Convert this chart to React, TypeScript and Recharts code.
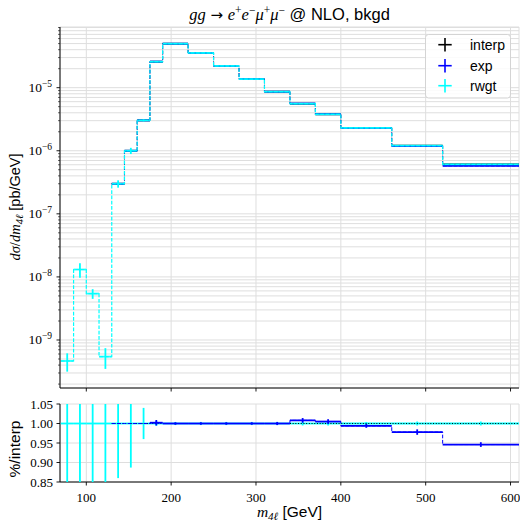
import React from "react";
import { ComposedChart, Line, Scatter, ErrorBar, XAxis, YAxis, CartesianGrid } from "recharts";

const SERIF = "'Liberation Serif', 'DejaVu Serif', serif";
const SANS = "'Liberation Sans', Arial, sans-serif";
const CYAN = "#00ffff";
const BLUE = "#0000ff";

// bin edges in m4l [GeV]
const EDGES = [70, 85, 100, 115, 130, 145, 160, 175, 190, 220, 250, 280, 310, 340, 370, 400, 460, 520, 610];

// dsigma/dm4l [pb/GeV], one value per bin
const RWGT = [4.65e-10, 1.31e-8, 5.44e-9, 5.45e-10, 3.0e-7, 1.0e-6, 3.03e-6, 2.58e-5, 4.98e-5, 3.55e-5, 2.21e-5, 1.37e-5, 8.64e-6, 5.57e-6, 3.78e-6, 2.3e-6, 1.21e-6, 6.08e-7];
const RWGT_ERR = [1.5e-10, 3.4e-9, 9.5e-10, 1.97e-10, 4.0e-8, 1.13e-7, 1.2e-7, 1.5e-7, 2.5e-7, 1.8e-7, 1.1e-7, 7e-8, 4.5e-8, 3e-8, 2e-8, 1.2e-8, 7e-9, 3.5e-9];
const INTERP = [null, null, null, null, 3.0e-7, 1.0e-6, 3.03e-6, 2.58e-5, 4.98e-5, 3.55e-5, 2.21e-5, 1.37e-5, 8.64e-6, 5.57e-6, 3.78e-6, 2.3e-6, 1.21e-6, 6.08e-7];
const EXP = [null, null, null, null, 3.0e-7, 1.0e-6, 3.03e-6, 2.59e-5, 4.98e-5, 3.55e-5, 2.21e-5, 1.37e-5, 8.64e-6, 5.61e-6, 3.8e-6, 2.29e-6, 1.18e-6, 5.75e-7];

// ratio to interp
const R_RWGT = [1, 1, 1, 1, 1, 1, 1, 1, 1, 1, 1, 1, 1, 1, 1, 1, 1, 1];
const R_RWGT_ERR = [0.33, 0.26, 0.175, 0.36, 0.14, 0.113, 0.04, 0.006, 0.004, 0.004, 0.004, 0.004, 0.004, 0.005, 0.005, 0.004, 0.005, 0.005];
const R_INTERP = [null, null, null, null, 1, 1, 1, 1, 1, 1, 1, 1, 1, 1, 1, 1, 1, 1];
const R_EXP = [null, null, null, null, 1, 1, 1, 1.002, 1, 1, 1, 1, 1, 1.008, 1.005, 0.994, 0.978, 0.946];
const R_EXP_ERR = [null, null, null, null, null, null, null, 0.007, 0.003, 0.003, 0.003, 0.003, 0.004, 0.006, 0.006, 0.005, 0.007, 0.006];

const X_DOMAIN = [69, 610];
const X_TICKS = [100, 200, 300, 400, 500, 600];
const Y_DOMAIN = [1.734e-10, 9.16e-5];
const Y_MAJOR = [1e-9, 1e-8, 1e-7, 1e-6, 1e-5];
const Y_DECADES = [-10, -9, -8, -7, -6, -5];
const Y_MULT = [1, 2, 3, 4, 5, 6, 7, 8, 9];
const Y_TICKS = Y_DECADES.flatMap((d) => Y_MULT.map((m) => m * Math.pow(10, d))).filter(
  (v) => v >= Y_DOMAIN[0] && v <= Y_DOMAIN[1]
);
const R_DOMAIN = [0.85, 1.05];
const R_TICKS = [0.85, 0.9, 0.95, 1.0, 1.05];

// step rows: one per edge, last edge repeats the last bin
function stepRows(series: Record<string, (number | null)[]>) {
  return EDGES.map((x, i) => {
    const row: Record<string, number | null> = { x };
    for (const k of Object.keys(series)) {
      const vals = series[k];
      row[k] = vals[Math.min(i, vals.length - 1)];
    }
    return row;
  });
}

// one cross per bin centre
function crosses(vals: (number | null)[], errs: (number | null)[] | null) {
  const out: { x: number; y: number; xerr: number; yerr: number }[] = [];
  vals.forEach((v, i) => {
    if (v == null) return;
    if (errs && errs[i] == null) return;
    out.push({
      x: (EDGES[i] + EDGES[i + 1]) / 2,
      y: v,
      xerr: (EDGES[i + 1] - EDGES[i]) / 2,
      yerr: errs ? (errs[i] as number) : 0,
    });
  });
  return out;
}

const MAIN_ROWS = stepRows({ interp: INTERP, exp: EXP, rwgt: RWGT });
const RATIO_ROWS = stepRows({ rwgt: R_RWGT, interp: R_INTERP, exp: R_EXP });

const NoShape = () => <g />;

const isMajor = (v: number) => Y_MAJOR.some((t) => Math.abs(v / t - 1) < 1e-6);

function LogYTick(props: any) {
  const { x, y, payload } = props;
  const v = payload.value;
  const major = isMajor(v);
  const e = Math.round(Math.log10(v));
  return (
    <g>
      <line x1={x} x2={x - (major ? 3.5 : 2)} y1={y} y2={y} stroke="#000" strokeWidth={major ? 0.9 : 0.6} />
      {major && (
        <text x={x - 8} y={y + 4.5} textAnchor="end" fontFamily={SERIF} fontSize={13.5} fill="#000">
          10
          <tspan dy={-5.5} fontSize={9.5}>{"\u2212" + -e}</tspan>
        </text>
      )}
    </g>
  );
}

function RatioYTick(props: any) {
  const { x, y, payload } = props;
  return (
    <g>
      <line x1={x} x2={x - 3.5} y1={y} y2={y} stroke="#000" strokeWidth={0.9} />
      <text x={x - 7} y={y + 4.5} textAnchor="end" fontFamily={SERIF} fontSize={13} fill="#000">
        {payload.value.toFixed(2)}
      </text>
    </g>
  );
}

function TickOnly(props: any) {
  const { x, y } = props;
  return <line x1={x} x2={x} y1={y} y2={y + 3.5} stroke="#000" strokeWidth={0.9} />;
}

function BottomXTick(props: any) {
  const { x, y, payload } = props;
  return (
    <g>
      <line x1={x} x2={x} y1={y} y2={y + 3.5} stroke="#000" strokeWidth={0.9} />
      <text x={x} y={y + 19.5} textAnchor="middle" fontFamily={SERIF} fontSize={13} fill="#000">
        {payload.value}
      </text>
    </g>
  );
}

const DASH = "3.7 1.6";

export default function App() {
  const interpPts = crosses(INTERP, null);
  const expPts = crosses(EXP, null);
  const rwgtPts = crosses(RWGT, RWGT_ERR);
  const rRwgtPts = crosses(R_RWGT, R_RWGT_ERR);
  const rExpPts = crosses(R_EXP, R_EXP_ERR);

  return (
    <div style={{ position: "absolute", left: 0, top: 0, width: 520, height: 523, background: "#fff" }}>
      <div style={{ position: "absolute", left: 0, top: 0 }}>
        <ComposedChart width={520} height={392} data={MAIN_ROWS} margin={{ top: 27, right: 1, bottom: 0, left: 0 }}>
          <CartesianGrid stroke="#dedede" strokeWidth={1} />
          <XAxis
            dataKey="x"
            type="number"
            domain={X_DOMAIN}
            allowDataOverflow
            ticks={X_TICKS}
            interval={0}
            height={4}
            tickSize={0}
            tickMargin={0}
            tick={<TickOnly />}
            axisLine={{ stroke: "#000", strokeWidth: 1 }}
          />
          <XAxis xAxisId="top" orientation="top" type="number" domain={X_DOMAIN} height={0} tick={false} tickLine={false} axisLine={{ stroke: "#000", strokeWidth: 1 }} />
          <YAxis
            type="number"
            scale="log"
            domain={Y_DOMAIN}
            allowDataOverflow
            ticks={Y_TICKS}
            interval={0}
            width={60}
            tickSize={0}
            tickMargin={0}
            tick={<LogYTick />}
            axisLine={{ stroke: "#000", strokeWidth: 1 }}
          />
          <YAxis yAxisId="right" orientation="right" type="number" domain={[0, 1]} width={0} tick={false} tickLine={false} axisLine={{ stroke: "#000", strokeWidth: 1 }} />

          <Scatter data={interpPts} dataKey="y" shape={NoShape} isAnimationActive={false}>
            <ErrorBar dataKey="xerr" direction="x" width={0} stroke="#000" strokeWidth={1.8} />
          </Scatter>
          <Line dataKey="interp" type="stepAfter" stroke="#000" strokeWidth={0.8} strokeDasharray={DASH} dot={false} activeDot={false} isAnimationActive={false} />
          <Scatter data={expPts} dataKey="y" shape={NoShape} isAnimationActive={false}>
            <ErrorBar dataKey="xerr" direction="x" width={0} stroke={BLUE} strokeWidth={1.8} />
          </Scatter>
          <Line dataKey="exp" type="stepAfter" stroke={BLUE} strokeWidth={0.8} strokeDasharray={DASH} dot={false} activeDot={false} isAnimationActive={false} />
          <Scatter data={rwgtPts} dataKey="y" shape={NoShape} isAnimationActive={false}>
            <ErrorBar dataKey="xerr" direction="x" width={0} stroke={CYAN} strokeOpacity={0.85} strokeWidth={1.8} />
            <ErrorBar dataKey="yerr" direction="y" width={0} stroke={CYAN} strokeWidth={1.8} />
          </Scatter>
          <Line dataKey="rwgt" type="stepAfter" stroke={CYAN} strokeWidth={1.2} strokeDasharray={DASH} dot={false} activeDot={false} isAnimationActive={false} />
        </ComposedChart>
      </div>

      {/* ratio panel: frame, grid and axes */}
      <div style={{ position: "absolute", left: 0, top: 390 }}>
        <ComposedChart width={520} height={133} data={RATIO_ROWS} margin={{ top: 14, right: 1, bottom: 0, left: 0 }}>
          <CartesianGrid stroke="#dedede" strokeWidth={1} />
          <XAxis
            dataKey="x"
            type="number"
            domain={X_DOMAIN}
            allowDataOverflow
            ticks={X_TICKS}
            interval={0}
            height={41}
            tickSize={0}
            tickMargin={0}
            tick={<BottomXTick />}
            axisLine={{ stroke: "#000", strokeWidth: 1 }}
          />
          <XAxis xAxisId="top" orientation="top" type="number" domain={X_DOMAIN} height={0} tick={false} tickLine={false} axisLine={{ stroke: "#000", strokeWidth: 1 }} />
          <YAxis
            type="number"
            domain={R_DOMAIN}
            allowDataOverflow
            ticks={R_TICKS}
            interval={0}
            width={60}
            tickSize={0}
            tickMargin={0}
            tick={<RatioYTick />}
            axisLine={{ stroke: "#000", strokeWidth: 1 }}
          />
          <YAxis yAxisId="right" orientation="right" type="number" domain={[0, 1]} width={0} tick={false} tickLine={false} axisLine={{ stroke: "#000", strokeWidth: 1 }} />
        </ComposedChart>
      </div>

      {/* ratio panel series, clipped to the plot area */}
      <div style={{ position: "absolute", left: 60, top: 404, width: 459, height: 78, overflow: "hidden" }}>
        <ComposedChart width={459} height={78} data={RATIO_ROWS} margin={{ top: 0, right: 0, bottom: 0, left: 0 }}>
          <XAxis dataKey="x" type="number" domain={X_DOMAIN} allowDataOverflow hide />
          <YAxis type="number" domain={R_DOMAIN} allowDataOverflow hide />
          <Scatter data={rRwgtPts} dataKey="y" shape={NoShape} isAnimationActive={false}>
            <ErrorBar dataKey="xerr" direction="x" width={0} stroke={CYAN} strokeWidth={1.8} />
            <ErrorBar dataKey="yerr" direction="y" width={0} stroke={CYAN} strokeWidth={1.8} />
          </Scatter>
          <Line dataKey="rwgt" type="stepAfter" stroke={CYAN} strokeWidth={1} strokeDasharray={DASH} dot={false} activeDot={false} isAnimationActive={false} />
          <Line dataKey="interp" type="stepAfter" stroke="#000" strokeWidth={1} strokeDasharray="1 1.7" dot={false} activeDot={false} isAnimationActive={false} />
          <Scatter data={rExpPts} dataKey="y" shape={NoShape} isAnimationActive={false}>
            <ErrorBar dataKey="xerr" direction="x" width={0} stroke={BLUE} strokeWidth={1.8} />
            <ErrorBar dataKey="yerr" direction="y" width={0} stroke={BLUE} strokeWidth={1.8} />
          </Scatter>
          <Line dataKey="exp" type="stepAfter" stroke={BLUE} strokeWidth={1} strokeDasharray={DASH} dot={false} activeDot={false} isAnimationActive={false} />
        </ComposedChart>
      </div>

      {/* title, axis labels and legend */}
      <svg width={520} height={523} style={{ position: "absolute", left: 0, top: 0, pointerEvents: "none" }}>
        <text x={289.5} y={20} textAnchor="middle" fontSize={16.5} fill="#000" style={{ whiteSpace: "pre" }}>
          <tspan fontFamily={SERIF} fontStyle="italic">gg</tspan>
          <tspan fontFamily="'DejaVu Sans', sans-serif" fontSize={15}>{" \u2192 "}</tspan>
          <tspan fontFamily={SERIF} fontStyle="italic">e</tspan>
          <tspan fontFamily={SERIF} fontSize={11.5} dy={-6}>+</tspan>
          <tspan fontFamily={SERIF} fontStyle="italic" dy={6}>e</tspan>
          <tspan fontFamily={SERIF} fontSize={11.5} dy={-6}>{"\u2212"}</tspan>
          <tspan fontFamily={SERIF} fontStyle="italic" dy={6}>{"\u03bc"}</tspan>
          <tspan fontFamily={SERIF} fontSize={11.5} dy={-6}>+</tspan>
          <tspan fontFamily={SERIF} fontStyle="italic" dy={6}>{"\u03bc"}</tspan>
          <tspan fontFamily={SERIF} fontSize={11.5} dy={-6}>{"\u2212"}</tspan>
          <tspan fontFamily={SANS} dy={6}>{" @ NLO, bkgd"}</tspan>
        </text>

        <text transform="translate(20,207) rotate(-90)" textAnchor="middle" fontSize={14.5} fill="#000" style={{ whiteSpace: "pre" }}>
          <tspan fontFamily={SERIF} fontStyle="italic">{"d\u03c3"}</tspan>
          <tspan fontFamily={SERIF}>/</tspan>
          <tspan fontFamily={SERIF} fontStyle="italic">dm</tspan>
          <tspan fontFamily={SERIF} fontStyle="italic" fontSize={10.5} dy={3}>{"4\u2113"}</tspan>
          <tspan fontFamily={SANS} dy={-3}>{" [pb/GeV]"}</tspan>
        </text>

        <text transform="translate(20,449) rotate(-90)" textAnchor="middle" fontSize={15.5} fontFamily={SANS} fill="#000">
          %/interp
        </text>

        <text x={289.5} y={517} textAnchor="middle" fontSize={15.5} fill="#000" style={{ whiteSpace: "pre" }}>
          <tspan fontFamily={SERIF} fontStyle="italic">m</tspan>
          <tspan fontFamily={SERIF} fontStyle="italic" fontSize={11} dy={3}>{"4\u2113"}</tspan>
          <tspan fontFamily={SANS} dy={-3}>{" [GeV]"}</tspan>
        </text>

        <rect x={425.5} y={34.5} width={85} height={63.5} rx={3} fill="#fff" fillOpacity={0.85} stroke="#d4d4d4" strokeWidth={1} />
        {[
          { label: "interp", color: "#000", cy: 44.7 },
          { label: "exp", color: BLUE, cy: 65.7 },
          { label: "rwgt", color: CYAN, cy: 85.7 },
        ].map((e) => (
          <g key={e.label}>
            <line x1={438.3} x2={451.7} y1={e.cy} y2={e.cy} stroke={e.color} strokeWidth={1.6} />
            <line x1={445} x2={445} y1={e.cy - 6.7} y2={e.cy + 6.7} stroke={e.color} strokeWidth={1.6} />
            <text x={470} y={e.cy + 5} fontFamily={SANS} fontSize={14} fill="#000">
              {e.label}
            </text>
          </g>
        ))}
      </svg>
    </div>
  );
}
